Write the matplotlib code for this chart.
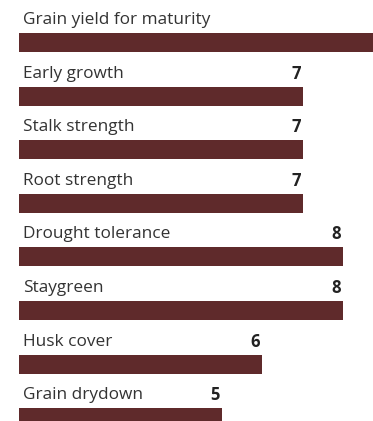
import matplotlib
matplotlib.use("Agg")
import matplotlib.pyplot as plt

traits = ["Grain yield for maturity", "Early growth", "Stalk strength", "Root strength",
          "Drought tolerance", "Staygreen", "Husk cover", "Grain drydown"]
scores = [9, 7, 7, 7, 8, 8, 6, 5]

bar_color = "#5f2a2b"
text_color = "#333333"

fig = plt.figure(figsize=(3.73, 4.21), dpi=100)
ax = fig.add_axes([0, 0, 1, 1])

pos = list(range(len(traits)))
ax.barh(pos, scores, height=0.355, color=bar_color, left=0)

for i, (name, val) in enumerate(zip(traits, scores)):
    ty = i - 0.42
    ax.text(0.11, ty, name, ha="left", va="center", fontsize=12.4,
            family="Open Sans", color=text_color)
    ax.text(val - 0.05, ty, str(val), ha="right", va="center", fontsize=12,
            family="Open Sans", fontweight="bold", color="#222222")

ax.set_xlim(-0.456, 8.73)
ax.set_ylim(7.06, -0.793)
ax.axis("off")

fig.savefig("out.png", dpi=100)
